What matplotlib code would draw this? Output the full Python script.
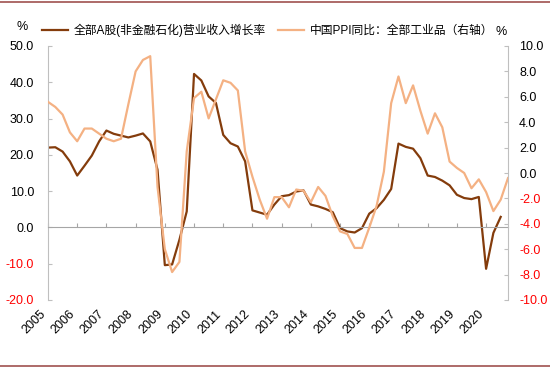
import matplotlib
matplotlib.use("Agg")
import matplotlib.pyplot as plt
from matplotlib.lines import Line2D
import numpy as np

plt.rcParams['font.family'] = ['Liberation Sans', 'Noto Sans CJK SC', 'DejaVu Sans']

# quarterly data, 2005Q1 - 2020Q4
years = [str(y) for y in range(2005, 2021)]
revenue = [22.0, 22.1, 20.9, 18.2, 14.3, 17.0, 19.8, 23.7, 26.7, 25.8, 25.3, 24.8,
           25.3, 25.9, 23.7, 15.9, -10.4, -10.2, -3.4, 4.4, 42.3, 40.5, 36.1, 34.3,
           25.5, 23.2, 22.3, 18.2, 4.7, 4.1, 3.5, 6.3, 8.6, 8.9, 9.9, 10.2,
           6.3, 5.8, 5.1, 4.2, -0.2, -1.1, -1.4, -0.2, 3.8, 5.3, 7.6, 10.6,
           23.1, 22.2, 21.7, 19.1, 14.3, 13.9, 12.9, 11.6, 9.0, 8.1, 7.8, 8.4,
           -11.4, -1.5, 2.9]
ppi = [5.6, 5.2, 4.6, 3.2, 2.5, 3.5, 3.5, 3.1, 2.7, 2.5, 2.7, 5.4,
       8.0, 8.9, 9.2, -1.1, -6.0, -7.8, -7.0, 1.7, 5.9, 6.4, 4.3, 5.8,
       7.3, 7.1, 6.5, 1.7, -0.3, -2.1, -3.6, -1.9, -1.9, -2.7, -1.3, -1.4,
       -2.3, -1.1, -1.8, -3.4, -4.6, -4.8, -5.9, -5.9, -4.3, -2.6, 0.1, 5.5,
       7.6, 5.5, 6.9, 4.9, 3.1, 4.7, 3.6, 0.9, 0.4, 0.0, -1.2, -0.5,
       -1.5, -3.0, -2.1, -0.4]
label_rev = '全部A股(非金融石化)营业收入增长率'
label_ppi = '中国PPI同比：全部工业品（右轴）'

dark = '#843C0C'
light = '#F4B183'
grey = '#BFBFBF'

fig = plt.figure(figsize=(5.5, 3.68), dpi=100)
ax = fig.add_axes([48/550, 68/368, 460/550, 254/368])
ax2 = ax.twinx()

x1 = np.arange(len(revenue))
x2 = np.arange(len(ppi))
l1, = ax.plot(x1, revenue, color=dark, lw=1.6)
l2, = ax2.plot(x2, ppi, color=light, lw=1.6)

ax.set_xlim(0, len(ppi) - 1)
ax.set_ylim(-20, 50)
ax2.set_ylim(-10, 10)
ax.set_yticks(np.arange(-20, 51, 10))
ax2.set_yticks(np.arange(-10, 11, 2))
ax.set_yticklabels(['%.1f' % v for v in np.arange(-20, 51, 10)])
ax2.set_yticklabels(['%.1f' % v for v in np.arange(-10, 11, 2)])
for t, v in zip(ax.get_yticklabels(), np.arange(-20, 51, 10)):
    t.set_color('red' if v < 0 else 'black')
for t, v in zip(ax2.get_yticklabels(), np.arange(-10, 11, 2)):
    t.set_color('red' if v < 0 else 'black')

for a in (ax, ax2):
    a.spines['top'].set_visible(False)
ax.spines['right'].set_visible(False)
ax2.spines['left'].set_visible(False)
ax2.spines['bottom'].set_visible(False)
ax.spines['left'].set_color(grey)
ax2.spines['right'].set_color(grey)
ax.spines['bottom'].set_position(('data', 0))
ax.spines['bottom'].set_color('#A6A6A6')

ax.tick_params(axis='y', direction='in', length=3, color=grey, labelsize=9, pad=10)
ax2.tick_params(axis='y', direction='in', length=3, color=grey, labelsize=9, pad=8)
ax.set_xticks(np.arange(0, len(ppi), 4))
ax.tick_params(axis='x', direction='in', length=3, color='#A6A6A6', labelbottom=False)

# year labels sit under the plot, not at the zero line
sec = ax.secondary_xaxis('bottom')
sec.spines['bottom'].set_visible(False)
sec.set_xticks(np.arange(0, len(ppi), 4))
sec.set_xticklabels(years, rotation=45, ha='right', va='top', fontsize=9)
sec.tick_params(axis='x', length=0, pad=6)

fig.text(22/550, 1 - 27/368, '%', fontsize=9, ha='center', va='center')
fig.text(501/550, 1 - 32/368, '%', fontsize=9, ha='center', va='center')

fig.legend([l1, l2], [label_rev, label_ppi], loc='center left',
           bbox_to_anchor=(42/550, 1 - 30/368), ncol=2, frameon=False,
           fontsize=8.5, handlelength=2.2, handletextpad=0.5,
           columnspacing=1.0, borderpad=0, borderaxespad=0)

# top and bottom rules
fig.add_artist(Line2D([0, 1], [1 - 2/368, 1 - 2/368], color='#A0524F', lw=1.2))
fig.add_artist(Line2D([0, 1], [2/368, 2/368], color='#A0524F', lw=1.2))

fig.savefig('out.png', dpi=100)
